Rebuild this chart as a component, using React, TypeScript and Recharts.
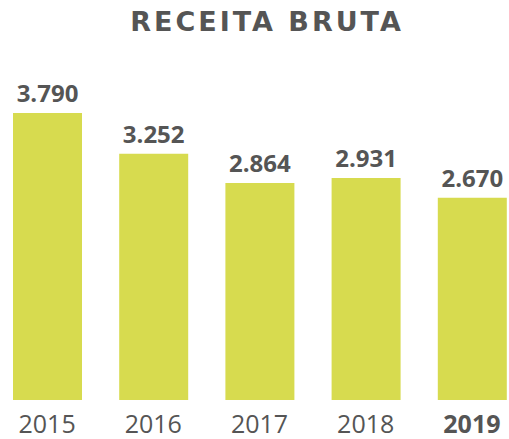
import { Bar, BarChart, LabelList, XAxis, YAxis } from "recharts";

const years = ["2015", "2016", "2017", "2018", "2019"];
const revenue = [3790, 3252, 2864, 2931, 2670];
const revenueLabels = ["3.790", "3.252", "2.864", "2.931", "2.670"];
const highlightYear = "2019";

const chartData = years.map((year, i) => ({
  year,
  value: revenue[i],
  label: revenueLabels[i],
}));

const TEXT_COLOR = "#555555";
const BAR_COLOR = "#d7db4f";

function YearTick({ x, y, payload }: any) {
  const bold = payload.value === highlightYear;
  return (
    <text
      x={x}
      y={y}
      dy={25}
      textAnchor="middle"
      fill={TEXT_COLOR}
      fontSize={25}
      fontWeight={bold ? 700 : 400}
      fontFamily="'Open Sans', sans-serif"
    >
      {payload.value}
    </text>
  );
}

export default function App() {
  return (
    <div
      style={{
        position: "absolute",
        left: 0,
        top: 0,
        width: 509,
        height: 439,
        overflow: "hidden",
        background: "#fff",
      }}
    >
      <div
        style={{
          position: "absolute",
          left: 0,
          top: 6,
          width: 534,
          textAlign: "center",
          fontFamily: "'DejaVu Sans', sans-serif",
          fontWeight: 700,
          fontSize: 27,
          letterSpacing: 3,
          color: TEXT_COLOR,
        }}
      >
        RECEITA BRUTA
      </div>
      <BarChart
        width={509}
        height={439}
        data={chartData}
        margin={{ top: 113, right: -16, bottom: 0, left: -6 }}
      >
        <XAxis
          dataKey="year"
          axisLine={false}
          tickLine={false}
          interval={0}
          tick={<YearTick />}
          height={39}
        />
        <YAxis hide domain={[0, "dataMax"]} />
        <Bar dataKey="value" fill={BAR_COLOR} barSize={69} isAnimationActive={false}>
          <LabelList
            dataKey="label"
            position="top"
            offset={11}
            fill={TEXT_COLOR}
            fontSize={24}
            fontWeight={700}
            fontFamily="'Open Sans', sans-serif"
          />
        </Bar>
      </BarChart>
    </div>
  );
}
